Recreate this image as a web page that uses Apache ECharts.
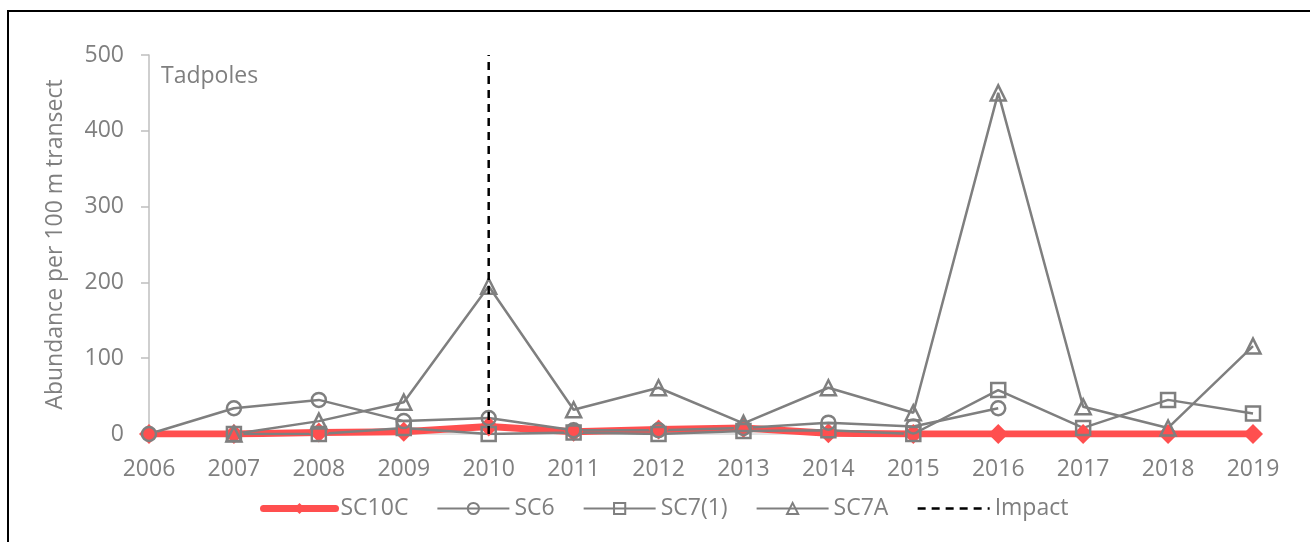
<!DOCTYPE html>
<html>
<head>
<meta charset="utf-8">
<script src="https://cdn.jsdelivr.net/npm/echarts@6/dist/echarts.min.js"></script>
<style>
html,body{margin:0;padding:0;background:#fff;}
#chart{width:1310px;height:543px;}
#frame{position:absolute;left:7px;top:10px;width:1400px;height:530px;border-top:2px solid #000;border-left:2px solid #000;pointer-events:none;}
</style>
</head>
<body>
<div id="chart"></div>
<div id="frame"></div>
<script>
const years = ['2006','2007','2008','2009','2010','2011','2012','2013','2014','2015','2016','2017','2018','2019'];
const sc10c = [0, 0, 2, 3, 10, 3, 6, 8, 1, 0, 0, 0, 0, 0];
const sc6   = [0, 34, 45, 17, 21, 5, 5, 8, 15, 10, 34, null, null, null];
const sc71  = [null, 0, 0, 8, 0, 2, 0, 4, 5, 0, 58, 8, 45, 27];
const sc7a  = [null, 0, 17, 42, 195, 32, 61, 14, 61, 28, 450, 36, 8, 116];
const impactYear = '2010';
const impactRange = [0, 500];
const yTicks = [0, 100, 200, 300, 400, 500];

const gray = '#7f7f7f';
const red = '#ff4f4f';
const font = 'Open Sans';
const hollow = {color: 'rgba(255,255,255,0)', borderColor: gray, borderWidth: 2.5};

const chart = echarts.init(document.getElementById('chart'), null, {renderer: 'canvas'});
chart.setOption({
  animation: false,
  grid: {left: 149, right: 57, top: 55, bottom: 109, containLabel: false},
  title: {
    text: 'Tadpoles', left: 156, top: 60,
    textStyle: {fontFamily: font, fontSize: 23, fontWeight: 'normal', color: gray}
  },
  legend: {
    left: 255, top: 492, itemWidth: 72, itemHeight: 14, itemGap: 28,
    textStyle: {fontFamily: font, fontSize: 23, color: gray},
    data: [
      {name: 'SC10C', lineStyle: {width: 7, color: red, cap: 'round'}, itemStyle: {color: red}},
      {name: 'SC6'},
      {name: 'SC7(1)'},
      {name: 'SC7A'},
      {name: 'Impact', itemStyle: {color: 'rgba(0,0,0,0)', borderWidth: 0}, lineStyle: {color: '#000', width: 2.5, type: [8, 6]}}
    ]
  },
  xAxis: {
    type: 'category', data: years, boundaryGap: false,
    axisLine: {show: true, lineStyle: {color: '#d9d9d9', width: 1.5}},
    axisTick: {show: false},
    axisLabel: {fontFamily: font, fontSize: 23, color: gray, margin: 24},
    splitLine: {show: false}
  },
  yAxis: {
    type: 'value', min: yTicks[0], max: yTicks[yTicks.length - 1], interval: 100,
    name: 'Abundance per 100 m transect', nameLocation: 'middle', nameGap: 82,
    nameTextStyle: {fontFamily: font, fontSize: 23, color: gray},
    axisLine: {show: true, lineStyle: {color: '#bfbfbf', width: 1.5}},
    axisTick: {show: true, length: 8, lineStyle: {color: '#bfbfbf', width: 1.5}},
    axisLabel: {fontFamily: font, fontSize: 23, color: gray, margin: 25},
    splitLine: {show: false}
  },
  series: [
    {
      name: 'SC10C', type: 'line', data: sc10c,
      symbol: 'diamond', symbolSize: 20,
      lineStyle: {color: red, width: 7},
      itemStyle: {color: red}
    },
    {
      name: 'SC6', type: 'line', data: sc6,
      symbol: 'circle', symbolSize: 14, connectNulls: false,
      lineStyle: {color: gray, width: 2.5},
      itemStyle: hollow
    },
    {
      name: 'SC7(1)', type: 'line', data: sc71,
      symbol: 'rect', symbolSize: 14,
      lineStyle: {color: gray, width: 2.5},
      itemStyle: hollow
    },
    {
      name: 'SC7A', type: 'line', data: sc7a,
      symbol: 'triangle', symbolSize: 15,
      lineStyle: {color: gray, width: 2.5},
      itemStyle: hollow
    },
    {
      name: 'Impact', type: 'line',
      data: [[impactYear, impactRange[0]], [impactYear, impactRange[1]]],
      symbol: 'none', z: 5,
      lineStyle: {color: '#000', width: 2.5, type: [8, 6]},
      itemStyle: {color: '#000'}
    }
  ]
});
</script>
</body>
</html>
